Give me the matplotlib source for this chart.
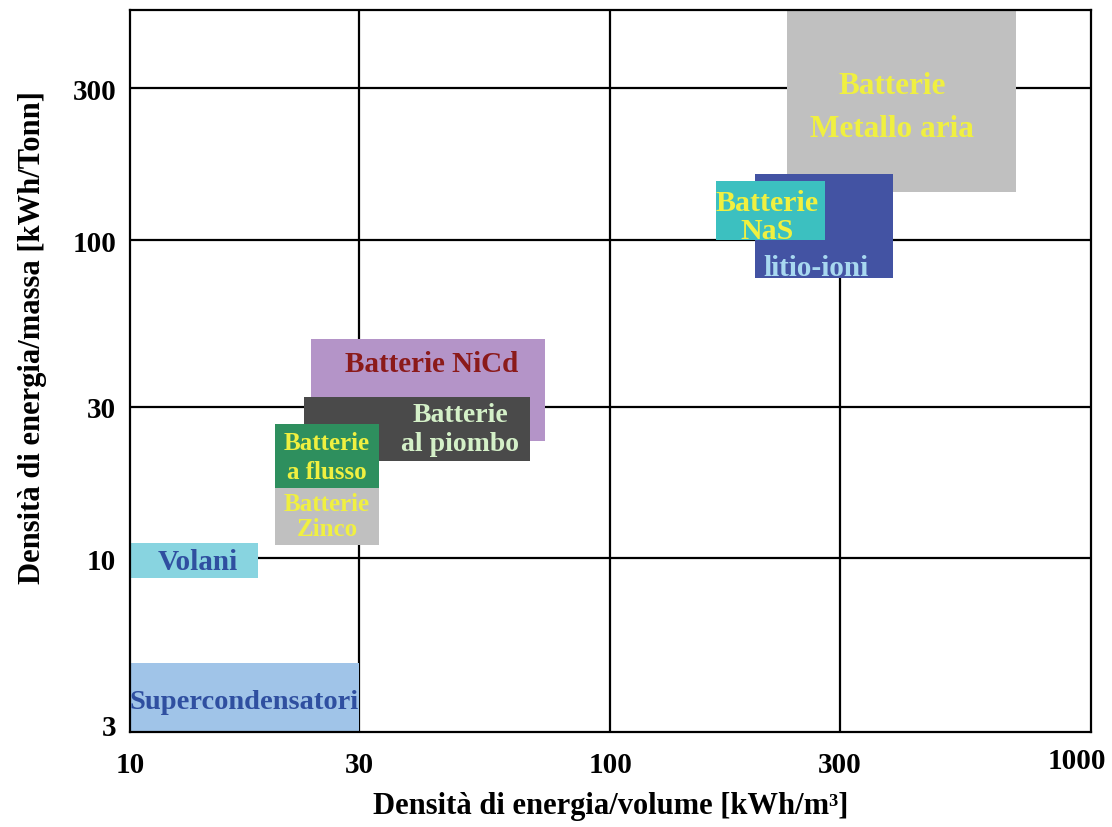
import numpy as np
from matplotlib import pyplot as plt
from matplotlib.patches import Rectangle
from matplotlib import transforms

# technologies (drawn in this order, later ones on top)
names = ['Supercondensatori', 'Volani', 'Batterie\nZinco', 'Batterie NiCd',
         'Batterie\nal piombo', 'Batterie\na flusso', 'Batterie\nMetallo aria',
         'litio-ioni', 'Batterie\nNaS']
x_lo = [10, 10, 20, 23.8, 23, 20, 233, 200, 166]
x_hi = [30, 18.5, 33, 73, 68, 33, 697, 387, 279]
y_lo = [2.6, 8.7, 11.05, 23.3, 20.3, 16.6, 142, 76, 100]
y_hi = [4.7, 11.2, 16.6, 49, 32.2, 26.4, 600, 162, 154]

# label anchor points
lab_x = [17.3, 13.8, 25.7, 42.4, 48.6, 25.7, 385, 268, 212]
lab_y = [3.55, 9.8, 13.6, 41, 25.5, 20.8, 262, 82, 119]

face = ['#a0c4e8', '#88d4e0', '#c0c0c0', '#b494c8', '#4a4a4a', '#2e8f5e',
        '#c0c0c0', '#4353a3', '#3cc0c0']
txt_col = ['#2f4fa0', '#2f4fa0', '#f0f040', '#8b1a1a', '#d4f0c8', '#f0f040',
           '#f0f040', '#a8d8f0', '#f0f040']
txt_size = [20.5, 21, 18, 21, 20, 18, 22.5, 21, 21.5]
txt_space = [1.1, 1.1, 1.1, 1.1, 1.25, 1.3, 1.65, 1.1, 1.05]

x_ticks = [10, 30, 100, 300, 1000]
y_ticks = [3, 10, 30, 100, 300]
grid_x = [30, 100, 300]
grid_y = [10, 30, 100, 300]


def draw():
  plt.rcParams['font.family'] = ['Liberation Serif', 'DejaVu Serif']
  fig = plt.figure(figsize=(11.12, 8.28), dpi=100)
  ax = fig.add_axes([0.117, 0.115, 0.864, 0.872])
  ax.set_xscale('log')
  ax.set_yscale('log')
  ax.set_xlim(10, 1000)
  ax.set_ylim(2.85, 530)

  # grid only at the inner lines
  for gx in grid_x:
    ax.axvline(gx, color='black', linewidth=1.6, zorder=1)
  for gy in grid_y:
    ax.axhline(gy, color='black', linewidth=1.6, zorder=1)

  for i in range(len(names)):
    r = Rectangle((x_lo[i], y_lo[i]), x_hi[i] - x_lo[i], y_hi[i] - y_lo[i],
                  facecolor=face[i], edgecolor='none', zorder=2)
    ax.add_patch(r)
    ax.text(lab_x[i], lab_y[i], names[i], color=txt_col[i], fontsize=txt_size[i],
            fontweight='bold', ha='center', va='center',
            linespacing=txt_space[i], zorder=3)

  ax.set_xticks(x_ticks)
  ax.set_xticklabels([str(v) for v in x_ticks])
  ax.set_yticks(y_ticks)
  ax.set_yticklabels([str(v) for v in y_ticks])
  ax.minorticks_off()
  ax.tick_params(length=0, labelsize=21)
  ax.tick_params(axis='x', pad=14)
  ax.tick_params(axis='y', pad=10)
  for lab in ax.get_xticklabels() + ax.get_yticklabels():
    lab.set_fontweight('bold')
  # last x label sits inside the figure edge
  last = ax.get_xticklabels()[-1]
  last.set_transform(last.get_transform() +
                     transforms.ScaledTranslation(-0.14, 0.04, fig.dpi_scale_trans))
  for s in ax.spines.values():
    s.set_linewidth(1.6)
    s.set_color('black')

  ax.set_xlabel('Densità di energia/volume [kWh/m³]', fontsize=22,
                fontweight='bold', labelpad=9)
  ax.set_ylabel('Densità di energia/massa [kWh/Tonn]', fontsize=22,
                fontweight='bold')
  ax.yaxis.set_label_coords(-0.087, 0.548)

  fig.savefig('out.png', dpi=100)


if __name__ == '__main__':
  draw()
